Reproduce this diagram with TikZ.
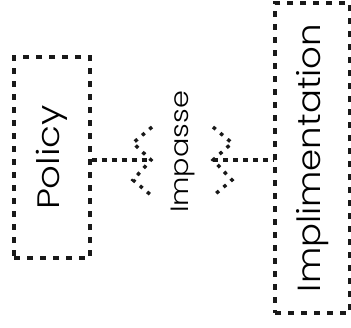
\documentclass[tikz,border=0pt]{standalone}
\usepackage{fontspec}
\setmainfont{Poppins Light}
\usetikzlibrary{positioning}
\tikzset{
  % dashed box round a rotated label
  dbox/.style={rectangle, draw=black!90, line width=3.3pt, dash pattern=on 6pt off 7pt,
               inner sep=0pt},
  % rotated, stretched label
  rlabel/.style={rotate=90, inner sep=0pt, font=\fontsize{#1}{#1}\selectfont},
  rlabel/.default={31pt},
  % dashed link between the boxes
  dlink/.style={draw=black!90, line width=3.3pt, dash pattern=on 5pt off 5pt},
  % dotted zigzag marks
  zig/.style={draw=black!90, line width=3.4pt, dash pattern=on 3.5pt off 6pt},
}
\begin{document}
\begin{tikzpicture}[x=1pt, y=-1pt]
  \useasboundingbox (0,0) rectangle (351,327);
  % boxes
  \node[dbox, minimum width=76pt, minimum height=201pt] (policy) at (52,157.5) {};
  \node[rlabel] (policytext) at (policy.center) {\scalebox{1.2}[1]{Policy}};
  \node[dbox, minimum width=75pt, minimum height=310pt] (impl) at (312.5,158) {};
  \node[rlabel=32pt] (impltext) at (impl.center) {\scalebox{1.11}[1]{Implimentation}};

  % middle label
  \node[rlabel=25pt] (impasse) at (183,152) {\scalebox{1.15}[1]{Impasse}};

  % zigzag tips
  \coordinate (tipL) at (151,160);
  \coordinate (tipR) at (213,160);
  \draw[dlink] (policy.east |- tipL) -- (tipL);
  \draw[dlink] (tipR) -- (impl.west |- tipR);
  \draw[zig] (152,127) -- (133,143) -- (tipL) -- (133,180) -- (152,196);
  \draw[zig] (213,127) -- (232,143) -- (tipR) -- (232,180) -- (213,196);
\end{tikzpicture}
\end{document}
